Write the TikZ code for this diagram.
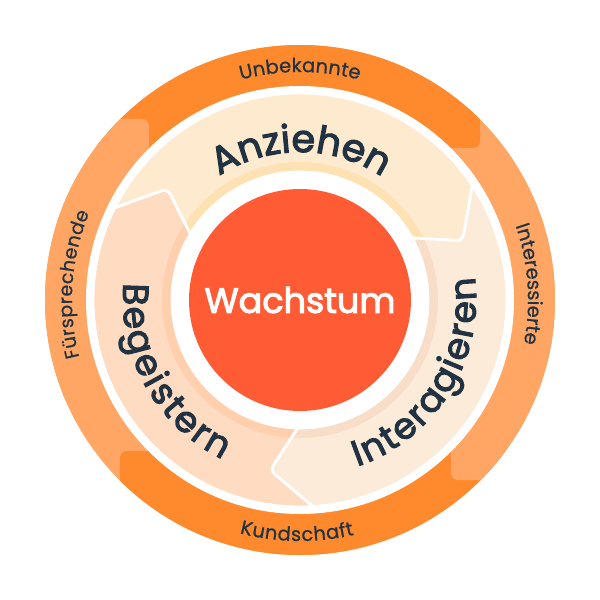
\documentclass[tikz,border=0pt]{standalone}
\usepackage{fontspec}
\usetikzlibrary{decorations.text}
\newfontfamily\popfont[FakeBold=0.7]{Poppins}
\newfontfamily\popbig[FakeBold=3]{Poppins}
\definecolor{ink}{HTML}{213343}
\definecolor{hubred}{HTML}{FF5C35}
\definecolor{ringdark}{HTML}{FF8A2E}
\definecolor{ringlight}{HTML}{FFA665}
\definecolor{anzA}{HTML}{FEEBCF}
\definecolor{anzB}{HTML}{FEE2B3}
\definecolor{intA}{HTML}{FCEBD9}
\definecolor{intB}{HTML}{F8DEC9}
\definecolor{begA}{HTML}{FFDBC2}
\definecolor{begB}{HTML}{FFCFAE}
\newcommand{\bladepath}[1]{%
  (#1+120+33.6:207) arc[start angle=#1+120+33.6,end angle=#1+33.6,radius=207]
  [rounded corners=6] -- (#1+20:173) [sharp corners] -- (#1+29:128)
  arc[start angle=#1+29,end angle=#1+120+29,radius=128]
  [rounded corners=6] -- (#1+120+20:173) [sharp corners] -- cycle}
\newcommand{\blade}[3]{%
  \fill[#2] \bladepath{#1};
  \begin{scope}
    \clip \bladepath{#1};
    \fill[#3] (0,0) circle[radius=138];
  \end{scope}
  \draw[white,line width=2.8,line join=round] \bladepath{#1};
  \fill[white] (0,0) circle[radius=127];}
\newcommand{\arclabel}[5]{%
  \path[decorate,decoration={text along path,text align={fit to path},
    text={|#4\color{ink}|#5}}]
    (#2:#1) arc[start angle=#2,end angle=#3,radius=#1];}
\tikzset{x=1pt,y=1pt}
\begin{document}
\begin{tikzpicture}
  \fill[white] (-300,-300) rectangle (300,300);
  \useasboundingbox (-300,-300) rectangle (300,300);
  \begin{scope}
    \clip (0,0) circle[radius=255];
    \fill[ringlight] (-300,-300) rectangle (300,300);
    \fill[ringdark,rounded corners=7] (-400,152) rectangle (180,400);
    \fill[ringlight,rounded corners=7] (-400,-100) rectangle (-151,181);
    \fill[ringdark,rounded corners=7] (-180,-151) rectangle (400,-400);
    \fill[ringlight,rounded corners=7] (151,-180) rectangle (400,100);
  \end{scope}
  \fill[white] (0,0) circle[radius=214];
  \blade{0}{anzA}{anzB}
  \blade{-120}{intA}{intB}
  \blade{120}{begA}{begB}
  \fill[hubred] (0,0) circle[radius=111];
  \node[text=white,font=\popbig\fontsize{35}{40}\selectfont] (wachstum) at (0,0) {Wachstum};
  \arclabel{148}{123}{57}{\popbig\fontsize{38}{44}\selectfont}{Anziehen}
  \arclabel{176}{-71}{7.5}{\popbig\fontsize{36}{44}\selectfont}{Interagieren}
  \arclabel{177}{174.5}{244}{\popbig\fontsize{36}{44}\selectfont}{Begeistern}
  \arclabel{228}{105}{75}{\popfont\fontsize{19.5}{22}\selectfont}{Unbekannte}
  \arclabel{228}{194.5}{157.5}{\popfont\fontsize{19}{22}\selectfont}{Fürsprechende}
  \arclabel{228}{19}{-11}{\popfont\fontsize{19.5}{22}\selectfont}{Interessierte}
  \arclabel{241}{-104.5}{-77}{\popfont\fontsize{19.5}{22}\selectfont}{Kundschaft}
\end{tikzpicture}
\end{document}
